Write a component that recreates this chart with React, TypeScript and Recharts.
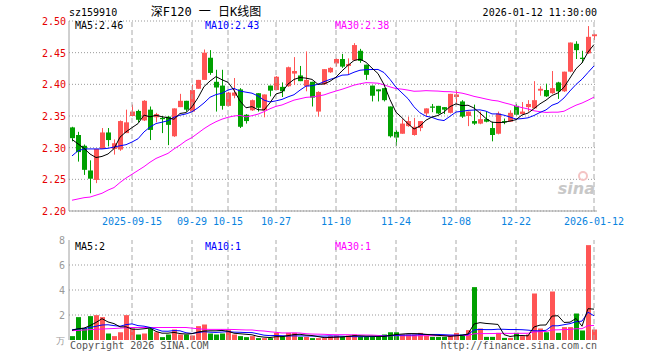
import React from "react";
import {
  ComposedChart,
  Bar,
  Line,
  XAxis,
  YAxis,
  CartesianGrid,
  ReferenceLine,
  Cell,
} from "recharts";

const dates = [
  "2025-09-01", "2025-09-02", "2025-09-03", "2025-09-04", "2025-09-05",
  "2025-09-08", "2025-09-09", "2025-09-10", "2025-09-11", "2025-09-12",
  "2025-09-15", "2025-09-16", "2025-09-17", "2025-09-18", "2025-09-19",
  "2025-09-22", "2025-09-23", "2025-09-24", "2025-09-25", "2025-09-26",
  "2025-09-29", "2025-09-30", "2025-10-09", "2025-10-10",
  "2025-10-13", "2025-10-14", "2025-10-15", "2025-10-16", "2025-10-17",
  "2025-10-20", "2025-10-21", "2025-10-22", "2025-10-23", "2025-10-24",
  "2025-10-27", "2025-10-28", "2025-10-29", "2025-10-30", "2025-10-31",
  "2025-11-03", "2025-11-04", "2025-11-05", "2025-11-06", "2025-11-07",
  "2025-11-10", "2025-11-11", "2025-11-12", "2025-11-13", "2025-11-14",
  "2025-11-17", "2025-11-18", "2025-11-19", "2025-11-20", "2025-11-21",
  "2025-11-24", "2025-11-25", "2025-11-26", "2025-11-27", "2025-11-28",
  "2025-12-01", "2025-12-02", "2025-12-03", "2025-12-04", "2025-12-05",
  "2025-12-08", "2025-12-09", "2025-12-10", "2025-12-11", "2025-12-12",
  "2025-12-15", "2025-12-16", "2025-12-17", "2025-12-18", "2025-12-19",
  "2025-12-22", "2025-12-23", "2025-12-24", "2025-12-25", "2025-12-26",
  "2025-12-29", "2025-12-30", "2025-12-31",
  "2026-01-05", "2026-01-06", "2026-01-07", "2026-01-08", "2026-01-09",
  "2026-01-12",
];

const opens = [
  2.332, 2.320, 2.303, 2.264, 2.249, 2.298, 2.324, 2.298, 2.297, 2.323,
  2.350, 2.358, 2.343, 2.360, 2.348, 2.347, 2.349, 2.318, 2.364, 2.374,
  2.357, 2.393, 2.407, 2.442, 2.404, 2.398, 2.366, 2.382, 2.392, 2.352,
  2.359, 2.386, 2.359, 2.398, 2.391, 2.396, 2.397, 2.417, 2.414, 2.397,
  2.404, 2.357, 2.400, 2.419, 2.433, 2.440, 2.429, 2.438, 2.453, 2.431,
  2.398, 2.392, 2.394, 2.365, 2.325, 2.322, 2.334, 2.320, 2.331, 2.354,
  2.365, 2.366, 2.364, 2.355, 2.380, 2.373, 2.350, 2.342, 2.338, 2.345,
  2.331, 2.322, 2.342, 2.341, 2.366, 2.353, 2.364, 2.362, 2.390, 2.391,
  2.386, 2.403, 2.389, 2.420, 2.464, 2.442, 2.449, 2.476,
];

const highs = [
  2.333, 2.325, 2.305, 2.280, 2.298, 2.331, 2.331, 2.313, 2.343, 2.360,
  2.368, 2.360, 2.375, 2.365, 2.355, 2.350, 2.350, 2.362, 2.385, 2.374,
  2.399, 2.407, 2.455, 2.454, 2.423, 2.423, 2.388, 2.410, 2.394, 2.353,
  2.376, 2.386, 2.384, 2.398, 2.413, 2.403, 2.428, 2.443, 2.429, 2.452,
  2.404, 2.389, 2.424, 2.427, 2.441, 2.448, 2.441, 2.465, 2.456, 2.431,
  2.398, 2.392, 2.394, 2.365, 2.328, 2.345, 2.349, 2.347, 2.342, 2.362,
  2.369, 2.366, 2.364, 2.385, 2.391, 2.375, 2.357, 2.368, 2.357, 2.357,
  2.341, 2.357, 2.346, 2.359, 2.369, 2.372, 2.375, 2.405, 2.397, 2.401,
  2.421, 2.404, 2.420, 2.466, 2.468, 2.453, 2.492, 2.480,
];

const lows = [
  2.310, 2.278, 2.257, 2.228, 2.244, 2.298, 2.302, 2.289, 2.295, 2.323,
  2.350, 2.340, 2.342, 2.312, 2.340, 2.323, 2.304, 2.317, 2.364, 2.357,
  2.357, 2.393, 2.407, 2.415, 2.357, 2.360, 2.365, 2.378, 2.331, 2.338,
  2.358, 2.357, 2.348, 2.381, 2.391, 2.380, 2.396, 2.399, 2.405, 2.389,
  2.365, 2.349, 2.399, 2.418, 2.428, 2.426, 2.416, 2.437, 2.434, 2.407,
  2.373, 2.373, 2.373, 2.316, 2.303, 2.322, 2.333, 2.319, 2.326, 2.349,
  2.356, 2.353, 2.353, 2.354, 2.368, 2.347, 2.334, 2.336, 2.337, 2.340,
  2.310, 2.321, 2.337, 2.341, 2.351, 2.353, 2.357, 2.362, 2.382, 2.380,
  2.385, 2.377, 2.388, 2.419, 2.440, 2.434, 2.448, 2.470,
];

const closes = [
  2.315, 2.293, 2.265, 2.251, 2.298, 2.324, 2.312, 2.307, 2.342, 2.340,
  2.357, 2.344, 2.374, 2.328, 2.353, 2.345, 2.336, 2.362, 2.374, 2.360,
  2.391, 2.407, 2.450, 2.418, 2.395, 2.366, 2.387, 2.387, 2.333, 2.342,
  2.375, 2.363, 2.384, 2.390, 2.412, 2.389, 2.427, 2.421, 2.405, 2.407,
  2.379, 2.388, 2.424, 2.426, 2.440, 2.428, 2.432, 2.462, 2.437, 2.415,
  2.382, 2.389, 2.375, 2.318, 2.316, 2.338, 2.342, 2.333, 2.342, 2.362,
  2.363, 2.354, 2.360, 2.385, 2.384, 2.349, 2.357, 2.338, 2.345, 2.341,
  2.320, 2.354, 2.340, 2.355, 2.352, 2.357, 2.369, 2.375, 2.393, 2.381,
  2.394, 2.389, 2.420, 2.466, 2.454, 2.440, 2.475, 2.479,
];

// 成交量（万）
const volumes = [
  0.31, 1.83, 0.97, 1.91, 1.99, 1.83, 0.52, 0.31, 0.62, 1.99,
  0.92, 0.44, 0.52, 0.92, 0.62, 0.23, 0.44, 0.84, 0.44, 0.44,
  0.36, 1.11, 1.24, 0.52, 0.44, 0.52, 0.79, 0.44, 0.31, 0.23,
  0.31, 0.15, 0.15, 0.15, 0.57, 0.31, 0.57, 0.57, 0.25, 0.25,
  0.15, 0.15, 0.15, 0.31, 0.36, 0.25, 0.36, 0.44, 0.25, 0.25,
  0.25, 0.25, 0.44, 0.62, 0.62, 0.44, 0.44, 0.44, 0.57, 0.36,
  0.25, 0.25, 0.25, 0.36, 0.57, 0.44, 0.79, 4.23, 0.92, 0.25,
  0.25, 0.57, 0.17, 0.17, 0.57, 0.31, 0.44, 3.72, 0.92, 0.62,
  3.88, 0.57, 1.03, 1.03, 2.12, 0.76, 7.59, 0.84,
];

// MA values before the window is full (earlier data not shown)
const ma5Lead = [2.313, 2.306, 2.299, 2.290];
const ma10Lead = [2.287, 2.295, 2.298, 2.298, 2.298, 2.298, 2.299, 2.301, 2.303];
const ma30Lead = [
  2.217, 2.219, 2.221, 2.222, 2.225, 2.228, 2.233, 2.237, 2.245, 2.252,
  2.258, 2.264, 2.270, 2.277, 2.283, 2.287, 2.291, 2.298, 2.304, 2.311,
  2.316, 2.323, 2.330, 2.336, 2.341, 2.345, 2.348, 2.350, 2.351,
];
const vma5Lead = [0.78, 0.9, 0.95, 1.15];
const vma10Lead = [0.82, 0.88, 0.92, 1.0, 1.1, 1.2, 1.22, 1.15, 1.1];
const vma30Lead = [
  0.75, 0.77, 0.8, 0.83, 0.86, 0.88, 0.9, 0.92, 0.95, 0.98,
  1.0, 1.0, 1.0, 1.0, 1.0, 1.0, 1.0, 1.0, 1.0, 1.0,
  0.95, 0.9, 0.86, 0.85, 0.85, 0.85, 0.85, 0.84, 0.82,
];

const dateTicks = [
  "2025-09-15", "2025-09-29", "2025-10-15", "2025-10-27", "2025-11-10",
  "2025-11-24", "2025-12-08", "2025-12-22", "2026-01-12",
];
const fullDateTicks = ["2025-09-15", "2026-01-12"];
const priceTicks = [2.2, 2.25, 2.3, 2.35, 2.4, 2.45, 2.5];
const volTicks = [0, 2, 4, 6, 8];

const RED = "#ff5555";
const GREEN = "#00a000";
const MONO = "'DejaVu Sans Mono', monospace";
const FRAME = "#a0a0a0";

function movingAvg(values: number[], n: number, lead: number[]) {
  return values.map((_, i) => {
    if (i < n - 1) return lead[i];
    let s = 0;
    for (let j = i - n + 1; j <= i; j++) s += values[j];
    return s / n;
  });
}

const ma5 = movingAvg(closes, 5, ma5Lead);
const ma10 = movingAvg(closes, 10, ma10Lead);
const ma30 = movingAvg(closes, 30, ma30Lead);
const vma5 = movingAvg(volumes, 5, vma5Lead);
const vma10 = movingAvg(volumes, 10, vma10Lead);
const vma30 = movingAvg(volumes, 30, vma30Lead);

const rows = dates.map((date, i) => ({
  date,
  open: opens[i],
  high: highs[i],
  low: lows[i],
  close: closes[i],
  range: [lows[i], highs[i]],
  vol: volumes[i],
  ma5: ma5[i],
  ma10: ma10[i],
  ma30: ma30[i],
  vma5: vma5[i],
  vma10: vma10[i],
  vma30: vma30[i],
}));

const last = rows.length - 1;

const Candle = (props: any) => {
  const { x, y, width, height, payload } = props;
  const top = Math.min(y, y + height);
  const h = Math.abs(height);
  const { open, close, high, low } = payload;
  const k = high > low ? h / (high - low) : 0;
  const yO = top + (high - open) * k;
  const yC = top + (high - close) * k;
  const color = close >= open ? RED : GREEN;
  const rx = Math.round(x);
  const cx = rx + Math.floor(width / 2) + 0.5;
  const bTop = Math.min(yO, yC);
  const bH = Math.max(1, Math.abs(yO - yC));
  return (
    <g>
      <line x1={cx} x2={cx} y1={top} y2={top + h} stroke={color} strokeWidth={1} />
      <rect x={rx} y={bTop} width={width} height={bH} fill={color} />
    </g>
  );
};

const PriceTick = (props: any) => {
  const { x, y, payload } = props;
  return (
    <text x={x + 5} y={y} dy={4} textAnchor="end" fill="#e60000" fontSize={10} fontFamily={MONO}>
      {payload.value.toFixed(2)}
    </text>
  );
};

const VolTick = (props: any) => {
  const { x, y, payload } = props;
  return (
    <text x={x + 4} y={y} dy={4} textAnchor="end" fill="#999" fontSize={payload.value === 0 ? 9 : 10} fontFamily={MONO}>
      {payload.value === 0 ? "万" : payload.value}
    </text>
  );
};

const DateTick = (props: any) => {
  const { x, y, payload } = props;
  const v: string = payload.value;
  const label = fullDateTicks.includes(v) ? v : v.slice(5);
  return (
    <text x={x} y={y} dy={6} textAnchor="middle" fill="#0a84e0" fontSize={10} fontFamily={MONO}>
      {label}
    </text>
  );
};

export default function App() {
  return (
    <div style={{ position: "absolute", left: 0, top: 0, width: 660, height: 360, background: "#fff" }}>
      <div style={{ position: "absolute", left: 0, top: 0 }}>
        <ComposedChart
          width={660}
          height={230}
          data={rows}
          margin={{ top: 21, right: 63, bottom: 0, left: 0 }}
        >
          <CartesianGrid vertical={false} stroke="#999" strokeDasharray="1 2" />
          {dateTicks.map((d) => (
            <ReferenceLine key={d} x={d} stroke="#aaa" strokeDasharray="5 3" />
          ))}
          <XAxis
            dataKey="date"
            ticks={dateTicks}
            interval={0}
            height={19}
            axisLine={{ stroke: FRAME }}
            tickLine={false}
            tick={<DateTick />}
          />
          <XAxis xAxisId="top" dataKey="date" orientation="top" height={0} axisLine={{ stroke: FRAME }} tick={false} tickLine={false} />
          <YAxis
            domain={[2.2, 2.5]}
            ticks={priceTicks}
            width={69}
            axisLine={{ stroke: FRAME }}
            tickLine={false}
            tick={<PriceTick />}
          />
          <YAxis yAxisId="right" orientation="right" domain={[2.2, 2.5]} width={0} axisLine={{ stroke: FRAME }} tick={false} tickLine={false} />
          <Bar dataKey="range" barSize={5} shape={<Candle />} isAnimationActive={false} />
          <Line dataKey="ma30" stroke="#ff00ff" dot={false} strokeWidth={1} isAnimationActive={false} />
          <Line dataKey="ma10" stroke="#0000ff" dot={false} strokeWidth={1} isAnimationActive={false} />
          <Line dataKey="ma5" stroke="#000" dot={false} strokeWidth={1} isAnimationActive={false} />
        </ComposedChart>
      </div>
      <div style={{ position: "absolute", left: 0, top: 230 }}>
        <ComposedChart
          width={660}
          height={130}
          data={rows}
          margin={{ top: 10, right: 63, bottom: 20, left: 0 }}
        >
          <CartesianGrid vertical={false} stroke="#999" strokeDasharray="1 2" horizontalValues={[2, 4, 6]} />
          {dateTicks.map((d) => (
            <ReferenceLine key={d} x={d} stroke="#aaa" strokeDasharray="5 3" />
          ))}
          <XAxis dataKey="date" hide />
          <XAxis xAxisId="top" dataKey="date" orientation="top" height={0} axisLine={{ stroke: FRAME }} tick={false} tickLine={false} />
          <YAxis
            domain={[0, 8]}
            ticks={volTicks}
            width={69}
            axisLine={{ stroke: FRAME }}
            tickLine={false}
            tick={<VolTick />}
          />
          <YAxis yAxisId="right" orientation="right" domain={[0, 8]} width={0} axisLine={{ stroke: FRAME }} tick={false} tickLine={false} />
          <Bar dataKey="vol" barSize={5} isAnimationActive={false}>
            {rows.map((r, i) => (
              <Cell key={`v-${i}`} fill={r.close >= r.open ? RED : GREEN} />
            ))}
          </Bar>
          <Line dataKey="vma30" stroke="#ff00ff" dot={false} strokeWidth={1} isAnimationActive={false} />
          <Line dataKey="vma10" stroke="#0000ff" dot={false} strokeWidth={1} isAnimationActive={false} />
          <Line dataKey="vma5" stroke="#000" dot={false} strokeWidth={1} isAnimationActive={false} />
        </ComposedChart>
      </div>
      <svg
        width={660}
        height={360}
        style={{ position: "absolute", left: 0, top: 0, pointerEvents: "none" }}
        fontFamily={MONO}
        fontSize={10}
      >
        <text x={69} y={16} fill="#000">sz159910</text>
        <text x={206} y={16} fill="#000" textAnchor="middle" fontSize={12} fontFamily="'DejaVu Sans Mono', 'Noto Sans CJK SC'">
          深F120 一 日K线图
        </text>
        <text x={597} y={16} fill="#000" textAnchor="end">2026-01-12 11:30:00</text>
        <text x={75} y={29} fill="#000">{`MA5:${rows[last].ma5.toFixed(2)}`}</text>
        <text x={205} y={29} fill="#0000ff">{`MA10:${rows[last].ma10.toFixed(2)}`}</text>
        <text x={335} y={29} fill="#ff00ff">{`MA30:${rows[last].ma30.toFixed(2)}`}</text>
        <text x={75} y={250} fill="#000">{`MA5:${Math.floor(rows[last].vma5)}`}</text>
        <text x={205} y={250} fill="#0000ff">{`MA10:${Math.floor(rows[last].vma10)}`}</text>
        <text x={335} y={250} fill="#ff00ff">{`MA30:${Math.floor(rows[last].vma30)}`}</text>
        <circle cx={583} cy={176} r={4} fill="none" stroke="#f4c4c4" strokeWidth={2} />
        <text x={595} y={194} fill="#c8c8c8" textAnchor="end" fontSize={16} fontStyle="italic" fontWeight="bold" fontFamily="'DejaVu Sans', sans-serif">sina</text>
        <text x={70} y={349} fill="#555">Copyright 2026 SINA.COM</text>
        <text x={597} y={349} fill="#555" textAnchor="end">http://finance.sina.com.cn</text>
      </svg>
    </div>
  );
}
